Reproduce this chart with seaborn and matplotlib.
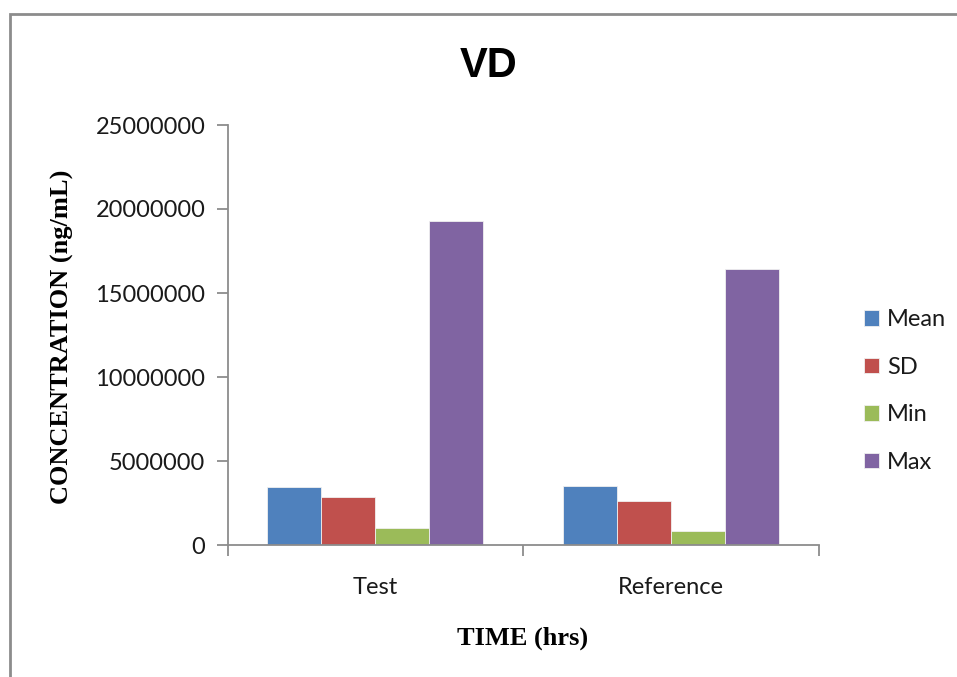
import matplotlib
matplotlib.use("Agg")
import matplotlib.pyplot as plt
import seaborn as sns
import pandas as pd
from matplotlib.ticker import FixedLocator, NullFormatter, FuncFormatter
from matplotlib.patches import Rectangle

# Data
groups = ["Test", "Reference"]
stats = ["Mean", "SD", "Min", "Max"]
test_values = [3450000, 2840000, 1000000, 19270000]
reference_values = [3530000, 2600000, 850000, 16430000]
colors = ["#4F81BD", "#C0504D", "#9BBB59", "#8064A2"]
y_ticks = [0, 5000000, 10000000, 15000000, 20000000, 25000000]

rows = []
for grp, vals in zip(groups, [test_values, reference_values]):
    for st, v in zip(stats, vals):
        rows.append({"group": grp, "stat": st, "value": v})
df = pd.DataFrame(rows)

sns.set_theme(style="white")
plt.rcParams["font.family"] = ["Lato", "DejaVu Sans"]

W, H = 957, 677
fig = plt.figure(figsize=(W / 100, H / 100), dpi=100)
fig.patch.set_facecolor("white")

# outer chart frame (left and top edges visible)
fig.patches.append(Rectangle((10 / W, -0.05), 1.2, (H - 14) / H + 0.05,
                             transform=fig.transFigure, fill=False,
                             edgecolor="#8c8c8c", linewidth=2))

ax = fig.add_axes([227.5 / W, (H - 545) / H, 591 / W, 420 / H])
sns.barplot(data=df, x="group", y="value", hue="stat", order=groups,
            hue_order=stats, palette=colors, width=0.73, gap=0,
            saturation=1, edgecolor="#f0f0f0", linewidth=0.6, ax=ax)

ax.set_xlim(-0.5, 1.5)
ax.set_ylim(0, 25000000)
ax.yaxis.set_major_locator(FixedLocator(y_ticks))
ax.yaxis.set_major_formatter(FuncFormatter(lambda v, p: f"{int(v)}"))

# category boundaries as ticks, labels centred between them
ax.xaxis.set_major_locator(FixedLocator([-0.5, 0.5, 1.5]))
ax.xaxis.set_major_formatter(NullFormatter())
ax.xaxis.set_minor_locator(FixedLocator([0, 1]))
ax.xaxis.set_minor_formatter(FuncFormatter(lambda v, p: groups[int(round(v))]))

axis_gray = "#8c8c8c"
for side in ["top", "right"]:
    ax.spines[side].set_visible(False)
for side in ["left", "bottom"]:
    ax.spines[side].set_color(axis_gray)
    ax.spines[side].set_linewidth(1.3)

ax.tick_params(axis="y", which="major", direction="out", length=8, width=1.3,
               color=axis_gray, labelsize=17, labelcolor="#1a1a1a", pad=8, left=True)
ax.tick_params(axis="x", which="major", direction="out", length=8, width=1.3,
               color=axis_gray, bottom=True)
ax.tick_params(axis="x", which="minor", length=0, labelsize=17,
               labelcolor="#1a1a1a", pad=23)

ax.set_xlabel("")
ax.set_ylabel("")
fig.text(62 / W, 1 - 337 / H, "CONCENTRATION (ng/mL)", rotation=90,
         ha="center", va="center", fontsize=19, fontweight="bold",
         family="Liberation Serif", color="black")
fig.text(523 / W, 1 - 638 / H, "TIME (hrs)", ha="center", va="center",
         fontsize=19, fontweight="bold", family="Liberation Serif", color="black")
fig.text(489 / W, 1 - 66 / H, "VD", ha="center", va="center",
         fontsize=30, fontweight="bold", family="Liberation Sans", color="black")

handles, labels = ax.get_legend_handles_labels()
ax.legend(handles, labels, loc="center left",
          bbox_to_anchor=(855 / W, 1 - 391 / H), bbox_transform=fig.transFigure,
          frameon=False, fontsize=17, labelcolor="#1a1a1a",
          handlelength=0.62, handleheight=0.62, handletextpad=0.35,
          labelspacing=1.12, borderaxespad=0)

fig.savefig("out.png", dpi=100, facecolor="white")
